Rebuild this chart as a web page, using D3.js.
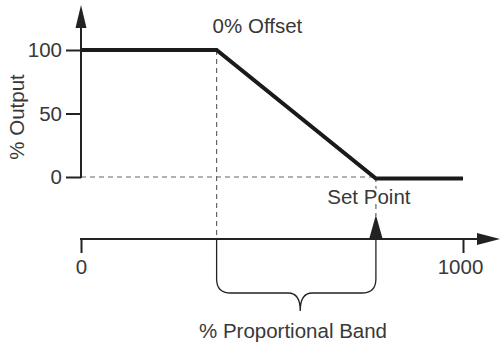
<!DOCTYPE html>
<html>
<head>
<meta charset="utf-8">
<script src="https://cdn.jsdelivr.net/npm/d3@7"></script>
<style>
  html, body { margin: 0; padding: 0; background: #fff; }
  svg text { font-family: "Liberation Sans", Arial, sans-serif; fill: #383838; }
</style>
</head>
<body>
<svg id="chart"></svg>
<script>
// output curve (x in 0..1000 of the controlled range, y in % output)
const outputX = [0, 355, 772, 1000];
const outputY = [100, 100, 0, 0];
const yTicks = [0, 50, 100];
const xTicks = [0, 1000];
const offsetPoint = 355;
const setPoint = 772;

const width = 501, height = 345;
const fontSize = 20.5;

const svg = d3.select('#chart')
              .attr('width', width)
              .attr('height', height);

const x = d3.scaleLinear().domain([0, 1000]).range([81, 463]);
const y = d3.scaleLinear().domain([0, 100]).range([177, 50]);

const axisY = 239;   // lower axis baseline
const braceTop = 268;
const ink = '#222';
const dashCol = '#666';

// dashed guides
svg.append('line')
   .attr('x1', x(0)).attr('x2', x(setPoint))
   .attr('y1', y(0)).attr('y2', y(0))
   .attr('stroke', dashCol).attr('stroke-width', 1.2)
   .attr('stroke-dasharray', '5,4');

svg.append('line')
   .attr('x1', x(offsetPoint)).attr('x2', x(offsetPoint))
   .attr('y1', y(100)).attr('y2', axisY)
   .attr('stroke', dashCol).attr('stroke-width', 1.2)
   .attr('stroke-dasharray', '5,4');

svg.append('line')
   .attr('x1', x(setPoint)).attr('x2', x(setPoint))
   .attr('y1', y(0)).attr('y2', 216)
   .attr('stroke', dashCol).attr('stroke-width', 1.2)
   .attr('stroke-dasharray', '5,4');

// Y axis
const gy = svg.append('g')
              .attr('transform', `translate(${x(0)},0)`)
              .call(d3.axisLeft(y).tickValues(yTicks).tickSize(15).tickPadding(4));
gy.select('.domain').remove();
gy.selectAll('.tick line').attr('stroke', ink).attr('stroke-width', 2);
gy.selectAll('.tick text')
  .style('font-size', fontSize + 'px')
  .style('font-family', '"Liberation Sans", Arial, sans-serif')
  .attr('fill', '#383838');

svg.append('line')
   .attr('x1', x(0)).attr('x2', x(0))
   .attr('y1', y(0) + 1).attr('y2', 26)
   .attr('stroke', ink).attr('stroke-width', 2);
svg.append('path')
   .attr('d', `M${x(0)},5 L${x(0) + 5.5},28 L${x(0) - 5.5},28 Z`)
   .attr('fill', ink);

svg.append('text')
   .attr('transform', 'rotate(-90)')
   .attr('x', -117)
   .attr('y', 24)
   .attr('text-anchor', 'middle')
   .style('font-size', fontSize + 'px')
   .text('% Output');

// Output line
const pts = outputX.map((d, i) => [d, outputY[i]]);
svg.append('path')
   .datum(pts)
   .attr('fill', 'none')
   .attr('stroke', '#1a1a1a')
   .attr('stroke-width', 4)
   .attr('d', d3.line().x(d => x(d[0])).y(d => y(d[1]) + (d[1] === 0 ? 1.5 : 0)));

svg.append('text')
   .attr('x', x(offsetPoint) - 4)
   .attr('y', 33)
   .style('font-size', fontSize + 'px')
   .text('0% Offset');

// lower axis
const gx = svg.append('g')
              .attr('transform', `translate(0,${axisY})`)
              .call(d3.axisBottom(x).tickValues(xTicks).tickSize(14).tickPadding(6).tickFormat(d3.format('d')));
gx.select('.domain').remove();
gx.selectAll('.tick line').attr('stroke', ink).attr('stroke-width', 2);
gx.selectAll('.tick text')
  .style('font-size', fontSize + 'px')
  .style('font-family', '"Liberation Sans", Arial, sans-serif')
  .attr('fill', '#383838')
  .attr('dx', d => d === 1000 ? -3 : 0);

svg.append('line')
   .attr('x1', x(0) - 1).attr('x2', 480)
   .attr('y1', axisY).attr('y2', axisY)
   .attr('stroke', ink).attr('stroke-width', 2);
svg.append('path')
   .attr('d', `M500,${axisY} L477,${axisY - 6} L477,${axisY + 6} Z`)
   .attr('fill', ink);

// set point marker
svg.append('text')
   .attr('x', x(setPoint) - 7)
   .attr('y', 204)
   .attr('text-anchor', 'middle')
   .attr('stroke', '#fff')
   .attr('stroke-width', 5)
   .style('paint-order', 'stroke')
   .style('font-size', fontSize + 'px')
   .text('Set Point');

svg.append('path')
   .attr('d', `M${x(setPoint)},215 L${x(setPoint) + 6.5},${axisY - 1} L${x(setPoint) - 6.5},${axisY - 1} Z`)
   .attr('fill', ink);

// brace legs
[offsetPoint, setPoint].forEach(v => {
  svg.append('line')
     .attr('x1', x(v)).attr('x2', x(v))
     .attr('y1', axisY).attr('y2', braceTop)
     .attr('stroke', ink).attr('stroke-width', 1.3);
});

// brace
const L = x(offsetPoint), R = x(setPoint), M = (L + R) / 2 + 4;
const yH = 293, yTip = 311;
svg.append('path')
   .attr('d', `M${L},${braceTop} V${yH - 14} Q${L},${yH} ${L + 14},${yH} H${M - 12}
               Q${M},${yH} ${M},${yTip} Q${M},${yH} ${M + 12},${yH} H${R - 14}
               Q${R},${yH} ${R},${yH - 14} V${braceTop}`)
   .attr('fill', 'none')
   .attr('stroke', ink)
   .attr('stroke-width', 1.3);

svg.append('text')
   .attr('x', 293)
   .attr('y', 338)
   .attr('text-anchor', 'middle')
   .style('font-size', fontSize + 'px')
   .text('% Proportional Band');
</script>
</body>
</html>
